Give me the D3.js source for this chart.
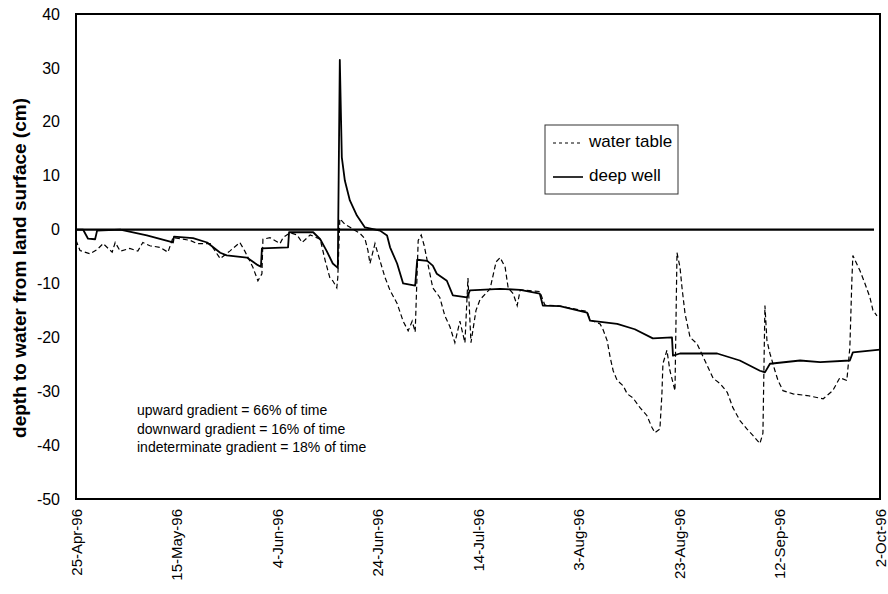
<!DOCTYPE html>
<html><head><meta charset="utf-8">
<script src="https://cdn.jsdelivr.net/npm/d3@7"></script>
<style>body{margin:0;background:#fff}svg{display:block}</style>
</head><body><svg id="c" width="888" height="594"></svg>
<script>
const startDate = "1996-04-25";
const tickLabels = ["25-Apr-96","15-May-96","4-Jun-96","24-Jun-96","14-Jul-96","3-Aug-96","23-Aug-96","12-Sep-96","2-Oct-96"];
const tickDayOffsets = [0,20,40,60,80,100,120,140,160];
const yTicks = [40,30,20,10,0,-10,-20,-30,-40,-50];
const yTitle = "depth to water from land surface (cm)";
const legendLabels = ["water table","deep well"];
const notes = ["upward gradient = 66% of time","downward gradient = 16% of time","indeterminate gradient = 18% of time"];

// days since 25-Apr-96
const deepWellDays =   [0,1.4,2.4,3.8,4.2,8.8,14.1,19.3,19.5,23.3,26.1,28.7,30.0,34.0,36.0,36.8,37.0,42.2,42.4,47.2,48.6,49.9,51.1,52.1,52.5,52.9,53.5,54.5,55.9,57.5,60.5,61.9,62.5,63.9,65.1,67.5,67.9,69.9,71.0,71.8,73.8,75.0,77.8,78.4,84.4,88.4,92.3,92.9,96.3,101.7,102.3,107.7,111.2,114.8,118.6,118.8,120.2,127.6,132.1,136.1,137.1,138.1,144.1,148.1,154.0,154.6,160];
const deepWellValues = [0,0,-1.7,-1.8,-0.2,0,-1.1,-2.4,-1.3,-1.6,-2.4,-4.3,-4.8,-5.2,-6.5,-6.9,-3.5,-3.3,-0.5,-0.5,-1.8,-4,-6.3,-7.1,31.5,13.4,9.1,5.4,2.6,0.4,-0.2,-1.1,-3.3,-6.3,-10,-10.4,-5.6,-5.8,-6.7,-8.2,-9.5,-12.2,-12.6,-11.3,-11,-11.2,-11.9,-14.1,-14.2,-15.4,-16.9,-17.5,-18.5,-20.2,-20,-23.4,-23,-23,-24.3,-26.2,-26.5,-24.9,-24.3,-24.6,-24.3,-22.8,-22.3];

const waterTableDays =   [0,0.8,2.8,4.2,5.4,7.2,7.8,8.8,10.7,12.3,13.3,14.7,16.7,18.3,19.3,22.7,24.1,26.7,28.7,30.6,32.6,33.6,35.2,36.2,37.0,37.2,38.6,40.6,41.2,42.6,44.0,45.0,46.6,48.6,49.6,50.5,51.1,51.9,52.1,52.5,53.5,54.9,56.5,57.5,58.1,58.5,59.5,60.5,61.5,62.5,63.9,65.1,66.1,66.9,67.5,68.1,68.7,69.3,69.9,71.0,72.4,73.4,74.4,75.4,76.4,77.4,78.0,78.6,79.6,80.4,82.4,83.6,84.4,85.4,86.0,87.0,87.8,88.4,92.3,93.3,96.3,101.7,102.3,104.3,104.9,105.7,106.3,106.9,107.7,108.9,109.7,110.8,112.2,113.6,114.6,115.2,116.2,116.6,116.8,117.6,118.2,119.2,119.6,120.2,120.6,121.2,122.2,123.6,124.2,125.6,126.8,128.2,129.6,130.7,132.1,133.5,134.7,136.1,136.7,137.1,137.5,138.1,139.1,139.7,140.7,142.7,145.5,148.7,150.6,152.0,153.4,154.0,154.4,154.6,156.0,157.0,158.0,158.6,159.4];
const waterTableValues = [-2,-3.9,-4.5,-3.7,-2.6,-4.2,-2.4,-4,-3.5,-4,-2.4,-3,-3.3,-4.2,-1.5,-2,-2.6,-2.6,-5.4,-4,-2.4,-4,-7,-9.5,-8.2,-1.8,-1.5,-2.6,-1.5,-0.6,-1,-2.4,-1,-1.8,-5.8,-8.9,-9.5,-10.8,-8.9,2,1,0.2,-0.7,-1.7,-3.9,-6.3,-2.6,-5.8,-8.9,-11.3,-13.7,-17,-18.8,-17,-19,-2,-1,-3,-5.8,-10.8,-12.6,-16,-18,-21,-17,-21,-9,-21,-15,-13,-11,-6,-5.2,-7,-10.8,-11.9,-14.1,-11.2,-11.5,-14,-14.2,-15.2,-16.8,-17.5,-18.6,-20.6,-23.7,-26.2,-28,-29,-30.5,-31.2,-33,-34.5,-36.7,-37.7,-37,-30.5,-24.9,-22.4,-26.2,-29.9,-4.3,-7,-10.8,-15.6,-20,-21.2,-22.4,-25.2,-27.6,-28.6,-30.2,-33,-35.4,-37,-38.2,-39.7,-37.8,-14.1,-20.6,-23,-26.2,-28,-29.9,-30.5,-30.8,-31.4,-29.9,-27.5,-28,-21.9,-9.5,-4.8,-7.6,-10,-12.6,-15,-16];

const FONT = "'Liberation Sans', Arial, Helvetica, sans-serif";
const svg = d3.select("#c");
const t0 = d3.timeParse("%Y-%m-%d")(startDate);
const toDate = d => new Date(t0.getTime() + d * 86400000);

const L = 76, R = 880, T = 14, B = 499;
const x = d3.scaleTime().domain([toDate(0), toDate(160)]).range([L, R]);
const y = d3.scaleLinear().domain([-50, 40]).range([B, T]);

// y axis
const yAxis = svg.append("g").attr("transform", `translate(${L},0)`)
  .call(d3.axisLeft(y).tickValues(yTicks).tickSize(0).tickPadding(16).tickFormat(d => String(d)));
yAxis.select(".domain").remove();
yAxis.selectAll("text").attr("font-family", FONT).attr("font-size", 16).attr("fill", "#000");

// x axis
const xAxis = svg.append("g").attr("transform", `translate(0,${B})`)
  .call(d3.axisBottom(x).tickValues(tickDayOffsets.map(toDate)).tickSize(0)
    .tickFormat((d, i) => tickLabels[i]));
xAxis.select(".domain").remove();
xAxis.selectAll("text")
  .attr("font-family", FONT).attr("font-size", 15).attr("fill", "#000")
  .attr("transform", "rotate(-90)").attr("text-anchor", "end")
  .attr("x", -10).attr("y", 0).attr("dy", "0.35em");

// y title
svg.append("text").attr("transform", `translate(21,268) rotate(-90)`)
  .attr("text-anchor", "middle").attr("dominant-baseline", "middle")
  .attr("font-family", FONT).attr("font-size", 19).attr("font-weight", "bold")
  .text(yTitle);

// frame
svg.append("rect").attr("x", L).attr("y", T).attr("width", R - L).attr("height", B - T)
  .attr("fill", "none").attr("stroke", "#000").attr("stroke-width", 2);

// zero line
svg.append("line").attr("x1", L).attr("x2", R - 6).attr("y1", y(0)).attr("y2", y(0))
  .attr("stroke", "#000").attr("stroke-width", 2.2);

const line = d3.line().x(d => x(toDate(d[0]))).y(d => y(d[1]));
svg.append("path").datum(waterTableDays.map((d, i) => [d, waterTableValues[i]]))
  .attr("d", line).attr("fill", "none").attr("stroke", "#000")
  .attr("stroke-width", 1.2).attr("stroke-dasharray", "5,3");
svg.append("path").datum(deepWellDays.map((d, i) => [d, deepWellValues[i]]))
  .attr("d", line).attr("fill", "none").attr("stroke", "#000")
  .attr("stroke-width", 1.8).attr("stroke-linejoin", "round");

// legend
const lg = svg.append("g");
lg.append("rect").attr("x", 545).attr("y", 125).attr("width", 133).attr("height", 69)
  .attr("fill", "#fff").attr("stroke", "#333").attr("stroke-width", 1);
[143, 177].forEach((ly, i) => {
  lg.append("line").attr("x1", 553).attr("x2", 583).attr("y1", ly).attr("y2", ly)
    .attr("stroke", "#000").attr("stroke-width", i ? 1.6 : 1.2)
    .attr("stroke-dasharray", i ? null : "3,3");
  lg.append("text").attr("x", 589).attr("y", ly).attr("dominant-baseline", "middle")
    .attr("font-family", FONT).attr("font-size", 17).text(legendLabels[i]);
});

// notes
svg.append("g").selectAll("text").data(notes).join("text")
  .attr("x", 137).attr("y", (d, i) => 415 + i * 18.5)
  .attr("font-family", FONT).attr("font-size", 14).text(d => d);
</script></body></html>
